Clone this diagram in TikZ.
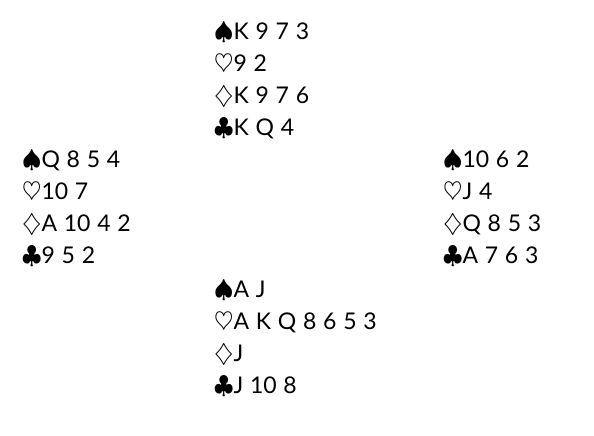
\documentclass[tikz,border=0pt]{standalone}
\usepackage{fontspec}
\setmainfont{Lato}[WordSpace=1.15]
\begin{document}
\begin{tikzpicture}[x=1pt, y=1pt, font=\fontsize{23}{27}\selectfont,
  hand/.style={anchor=base west, inner sep=0pt}]
			\useasboundingbox (0,0) rectangle (594,436);
			\path
			(214,396) coordinate (N)
			(22,268) coordinate (W)
			(443,268) coordinate (E)
			(214,138) coordinate (S);
			
			\foreach \pos/\sp/\he/\di/\cl in {N/K 9 7 3/9 2/K 9 7 6/K Q 4, W/Q 8 5 4/10 7/A 10 4 2/9 5 2, E/10 6 2/J 4/Q 8 5 3/A 7 6 3, S/A J/A K Q 8 6 5 3/J/J 10 8}
			{
				\node[hand] (\pos-s) at (\pos) {$\spadesuit$\sp};
				\node[hand] (\pos-h) at ([yshift=-32]\pos-s.base west) {$\heartsuit$\he};
				\node[hand] (\pos-d) at ([yshift=-32]\pos-h.base west) {$\diamondsuit$\di};
				\node[hand] (\pos-c) at ([yshift=-32]\pos-d.base west) {$\clubsuit$\cl};
			}
		\end{tikzpicture}
\end{document}
